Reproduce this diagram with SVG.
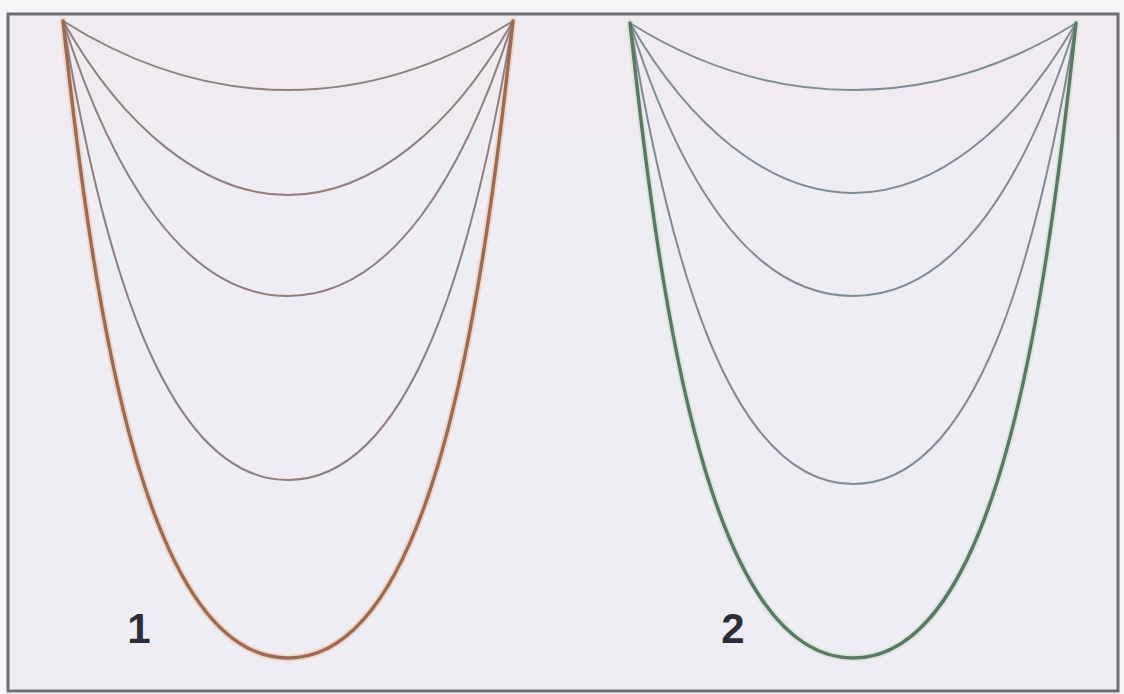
<svg xmlns="http://www.w3.org/2000/svg" width="1124" height="694" viewBox="0 0 1124 694">
  <style>
    .bg { fill: #eeedf4; }
    .frame { fill: none; stroke: #6e6e74; stroke-width: 3; }
    .c1 { fill: none; stroke: #8f7f7d; stroke-width: 2; stroke-linecap: round; }
    .c1o { fill: none; stroke: #9e6a58; stroke-width: 3.4; stroke-linecap: round; }
    .c1g { fill: none; stroke: #f0cdb2; stroke-width: 7; stroke-linecap: round; opacity: 0.7; }
    .c2 { fill: none; stroke: #808b95; stroke-width: 2; stroke-linecap: round; }
    .c2o { fill: none; stroke: #5b7864; stroke-width: 3.4; stroke-linecap: round; }
    .c2g { fill: none; stroke: #d3e2d6; stroke-width: 7; stroke-linecap: round; opacity: 0.7; }
    .lbl { font-family: "Liberation Sans", Arial, sans-serif; font-weight: bold; font-size: 42px; fill: #2b2d3a; text-anchor: middle; }
  </style>
  <rect x="0" y="0" width="1124" height="694" fill="#f6f6f9"/>
  <rect class="bg" x="8" y="14" width="1110" height="677"/>
  <rect x="9" y="15" width="1108" height="120" fill="#f3e9ee" opacity="0.4"/>
  <rect class="frame" x="8" y="14" width="1110" height="677"/>

  <g id="connectors">
    <g id="set1">
      <path class="c1g" d="M63,21 C95,321 146,658 288,658 C430,658 481,321 513,21"/>
      <path class="c1" d="M63,21 C136,67 213,90 288,90 C363,90 440,67 513,21"/>
      <path class="c1" d="M63,21 C122,126 203,195 288,195 C373,195 454,126 513,21"/>
      <path class="c1" d="M63,21 C112,175 185,296 288,296 C391,296 464,175 513,21"/>
      <path class="c1" d="M63,21 C102,255 164,480 288,480 C412,480 474,255 513,21"/>
      <path class="c1o" d="M63,21 C95,321 146,658 288,658 C430,658 481,321 513,21"/>
    </g>
    <g id="set2">
      <path class="c2g" d="M630,23 C662,323 711,658 853,658 C995,658 1044,323 1076,23"/>
      <path class="c2" d="M630,23 C703,69 778,90 853,90 C928,90 1003,69 1076,23"/>
      <path class="c2" d="M630,23 C689,125 768,193 853,193 C938,193 1017,125 1076,23"/>
      <path class="c2" d="M630,23 C679,177 750,296 853,296 C956,296 1027,177 1076,23"/>
      <path class="c2" d="M630,23 C669,257 729,484 853,484 C977,484 1037,257 1076,23"/>
      <path class="c2o" d="M630,23 C662,323 711,658 853,658 C995,658 1044,323 1076,23"/>
    </g>
  </g>

  <g id="label1"><text class="lbl" x="139" y="643">1</text></g>
  <g id="label2"><text class="lbl" x="733" y="643">2</text></g>
</svg>
